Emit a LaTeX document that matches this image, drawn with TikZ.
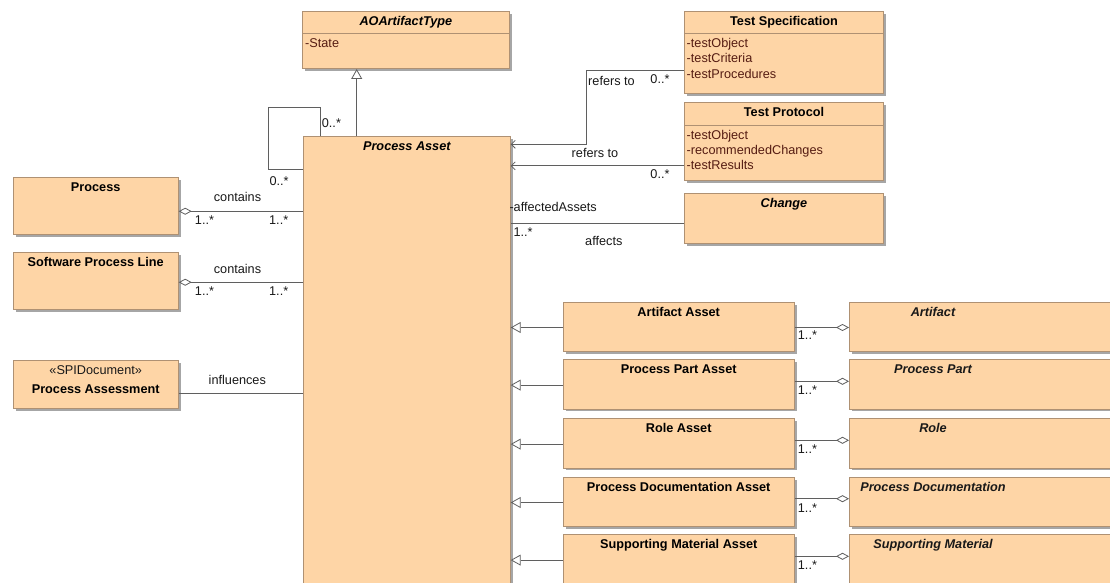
\documentclass[tikz,border=0pt]{standalone}
\usepackage{fontspec}
\setmainfont{Liberation Sans}
\usetikzlibrary{arrows.meta, shadows}

\definecolor{clsfill}{RGB}{254,213,166}
\definecolor{clsedge}{RGB}{175,145,115}
\definecolor{linegray}{RGB}{95,95,95}
\definecolor{attrcol}{RGB}{85,28,18}

\tikzset{
    cls/.style={draw=clsedge, fill=clsfill, line width=0.7pt, anchor=north west,
        inner xsep=2pt, inner ysep=4.8pt, text height=9.5pt, font=\bfseries,
        drop shadow={shadow xshift=2.5pt, shadow yshift=-2.5pt, fill=black!35, opacity=1}},
    abs/.style={font=\bfseries\itshape},
    attr/.style={anchor=base west, inner sep=0pt, text=attrcol},
    lbl/.style={inner sep=0pt, text=black!90},
    sep/.style={draw=clsedge, line width=0.7pt},
    conn/.style={draw=linegray, line width=0.8pt},
    gen/.style={conn, -{Triangle[length=10pt, width=11pt, fill=white]}},
    nav/.style={conn, -{Straight Barb[length=4pt, width=8pt]}},
    aggr/.style={conn, -{Diamond[length=13pt, width=7pt, fill=white]}}
}

\begin{document}
\begin{tikzpicture}[x=1pt, y=-1pt]
    \fontsize{12.7}{15.3}\selectfont
    \clip (0,0) rectangle (1110,583);
    \fill[white] (0,0) rectangle (1110,583);

    % classes in the middle and on the left
    \node[cls, abs, minimum width=207pt, text depth=38.5pt] (aot) at (302,10.7) {AOArtifactType};
    \draw[sep] ([yshift=-23pt]aot.north west) -- ([yshift=-23pt]aot.north east);
    \node[attr] (aot-a1) at ([xshift=3pt, yshift=-37pt]aot.north west) {-State};

    \node[cls, abs, minimum width=207pt, text depth=445pt] (pa) at (303,136) {Process Asset};

    \node[cls, minimum width=165.3pt, text depth=38.5pt] (proc) at (12.7,176.7) {Process};
    \node[cls, minimum width=165.3pt, text depth=38.5pt] (spl) at (12.7,251.7) {Software Process Line};
    \node[cls, minimum width=165.3pt, text height=28.8pt, text depth=9.6pt] (pas) at (12.7,360) {Process Assessment};
    \node[lbl] (pas-st) at ([yshift=-10pt]pas.north) {«SPIDocument»};

    % classes on the top right
    \node[cls, minimum width=199.3pt, text depth=63.2pt] (ts) at (684,10.7) {Test Specification};
    \draw[sep] ([yshift=-23pt]ts.north west) -- ([yshift=-23pt]ts.north east);
    \node[attr] (ts-a1) at ([xshift=2.5pt, yshift=-37pt]ts.north west) {-testObject};
    \node[attr] (ts-a2) at ([yshift=-15.3pt]ts-a1.base west) {-testCriteria};
    \node[attr] (ts-a3) at ([yshift=-15.3pt]ts-a2.base west) {-testProcedures};

    \node[cls, minimum width=199.3pt, text depth=59.5pt] (tp) at (684,101.7) {Test Protocol};
    \draw[sep] ([yshift=-24pt]tp.north west) -- ([yshift=-24pt]tp.north east);
    \node[attr] (tp-a1) at ([xshift=2.5pt, yshift=-37.5pt]tp.north west) {-testObject};
    \node[attr] (tp-a2) at ([yshift=-15.3pt]tp-a1.base west) {-recommendedChanges};
    \node[attr] (tp-a3) at ([yshift=-15.3pt]tp-a2.base west) {-testResults};

    \node[cls, abs, minimum width=199.3pt, text depth=31.2pt] (chg) at (684,192.7) {Change};

    % asset classes
    \node[cls, minimum width=231.3pt, text depth=30.2pt] (aa) at (562.7,301.7) {Artifact Asset};
    \node[cls, minimum width=231.3pt, text depth=30.2pt] (ppa) at (562.7,359.3) {Process Part Asset};
    \node[cls, minimum width=231.3pt, text depth=30.2pt] (ra) at (562.7,418.3) {Role Asset};
    \node[cls, minimum width=231.3pt, text depth=30.2pt] (pda) at (562.7,476.7) {Process Documentation Asset};
    \node[cls, minimum width=231.3pt, text depth=30.2pt] (sma) at (562.7,534.3) {Supporting Material Asset};

    % classes cut by the right edge
    \node[cls, minimum width=280pt, text depth=30.2pt] (art) at (849,301.7) {};
    \node[cls, minimum width=280pt, text depth=30.2pt] (pp) at (849,359.3) {};
    \node[cls, minimum width=280pt, text depth=30.2pt] (role) at (849,418.3) {};
    \node[cls, minimum width=280pt, text depth=30.2pt] (pd) at (849,476.7) {};
    \node[cls, minimum width=280pt, text depth=30.2pt] (sm) at (849,534.3) {};
    \node[lbl, abs, anchor=base] (art-t) at ([xshift=84pt, yshift=-14.3pt]art.north west) {Artifact};
    \node[lbl, abs, anchor=base] (pp-t) at ([xshift=84pt, yshift=-14.3pt]pp.north west) {Process Part};
    \node[lbl, abs, anchor=base] (role-t) at ([xshift=84pt, yshift=-14.3pt]role.north west) {Role};
    \node[lbl, abs, anchor=base] (pd-t) at ([xshift=84pt, yshift=-14.3pt]pd.north west) {Process Documentation};
    \node[lbl, abs, anchor=base] (sm-t) at ([xshift=84pt, yshift=-14.3pt]sm.north west) {Supporting Material};

    % generalization to AOArtifactType and the self association
    \coordinate (genx) at (356.7,0);
    \draw[gen] (genx |- pa.north) -- (genx |- aot.south);
    \coordinate (lp1) at (320,107.7);
    \coordinate (lp2) at (268,169.3);
    \draw[conn] (lp1 |- pa.north) -- (lp1) -| (lp2) -- (lp2 -| pa.west);
    \node[lbl, anchor=west] (lp-m1) at (321.7,123.3) {0..*};
    \node[lbl, anchor=west] (lp-m2) at (269.3,180.7) {0..*};

    % left side
    \draw[aggr] ([yshift=-5.4pt]pa.west |- proc.east) -- ([yshift=-5.4pt]proc.east);
    \node[lbl] (c1) at (237.5,197.3) {contains};
    \node[lbl] (c1-m1) at (204.5,220) {1..*};
    \node[lbl] (c1-m2) at (278.7,220) {1..*};

    \draw[aggr] ([yshift=-1.4pt]pa.west |- spl.east) -- ([yshift=-1.4pt]spl.east);
    \node[lbl] (c2) at (237.5,269) {contains};
    \node[lbl] (c2-m1) at (204.5,290.7) {1..*};
    \node[lbl] (c2-m2) at (278.7,290.7) {1..*};

    \draw[conn] ([yshift=-8.7pt]pas.east) -- ([yshift=-8.7pt]pa.west |- pas.east);
    \node[lbl] (inf) at (237.3,380) {influences};

    % top right
    \coordinate (rf) at (586,144.3);
    \draw[nav] ([yshift=-18pt]ts.west) -| (rf) -- (rf -| pa.east);
    \node[lbl] (rf1) at (611.5,80.7) {refers to};
    \node[lbl] (rf1-m) at (660,79) {0..*};

    \draw[nav] ([yshift=-24.5pt]tp.west) -- ([yshift=-24.5pt]pa.east |- tp.west);
    \node[lbl] (rf2) at (595,152.7) {refers to};
    \node[lbl] (rf2-m) at (660,174) {0..*};

    \draw[conn] ([yshift=-5.6pt]chg.west) -- ([yshift=-5.6pt]pa.east |- chg.west);
    \node[lbl, anchor=west] (af-r) at (509.3,207.3) {-affectedAssets};
    \node[lbl, anchor=west] (af-m) at (513.3,231.7) {1..*};
    \node[lbl] (af) at (603.8,240.7) {affects};

    % assets
    \draw[gen] ([yshift=-0.8pt]aa.west) -- ([yshift=-0.8pt]pa.east |- aa.west);
    \draw[aggr] ([yshift=-0.8pt]aa.east) -- ([yshift=-0.8pt]art.west |- aa.east);
    \node[lbl, anchor=west] (aa-m) at ([xshift=3pt, yshift=-8.8pt]aa.east) {1..*};

    \draw[gen] ([yshift=-0.8pt]ppa.west) -- ([yshift=-0.8pt]pa.east |- ppa.west);
    \draw[aggr] ([yshift=3pt]ppa.east) -- ([yshift=3pt]pp.west |- ppa.east);
    \node[lbl, anchor=west] (ppa-m) at ([xshift=3pt, yshift=-6pt]ppa.east) {1..*};

    \draw[gen] ([yshift=-0.8pt]ra.west) -- ([yshift=-0.8pt]pa.east |- ra.west);
    \draw[aggr] ([yshift=3pt]ra.east) -- ([yshift=3pt]role.west |- ra.east);
    \node[lbl, anchor=west] (ra-m) at ([xshift=3pt, yshift=-6pt]ra.east) {1..*};

    \draw[gen] ([yshift=-0.8pt]pda.west) -- ([yshift=-0.8pt]pa.east |- pda.west);
    \draw[aggr] ([yshift=3pt]pda.east) -- ([yshift=3pt]pd.west |- pda.east);
    \node[lbl, anchor=west] (pda-m) at ([xshift=3pt, yshift=-6pt]pda.east) {1..*};

    \draw[gen] ([yshift=-0.8pt]sma.west) -- ([yshift=-0.8pt]pa.east |- sma.west);
    \draw[aggr] ([yshift=3pt]sma.east) -- ([yshift=3pt]sm.west |- sma.east);
    \node[lbl, anchor=west] (sma-m) at ([xshift=3pt, yshift=-6pt]sma.east) {1..*};
\end{tikzpicture}
\end{document}
